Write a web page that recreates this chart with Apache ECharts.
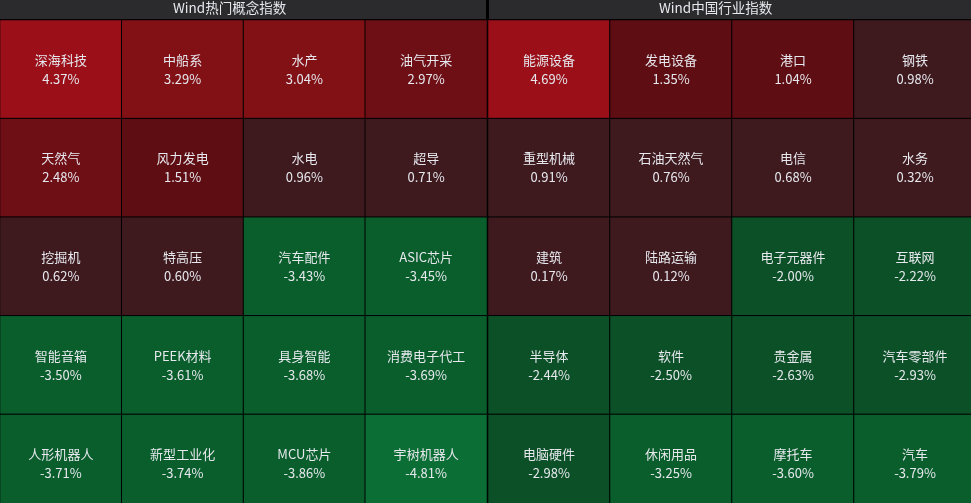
<!DOCTYPE html>
<html>
<head>
<meta charset="utf-8">
<script src="https://cdn.jsdelivr.net/npm/echarts@6/dist/echarts.min.js"></script>
<style>html,body{margin:0;padding:0;background:#000;}#c{width:971px;height:503px;}</style>
</head>
<body>
<div id="c"></div>
<script>
var panelTitles = ['Wind热门概念指数', 'Wind中国行业指数'];
var conceptNames = ['深海科技','中船系','水产','油气开采','天然气','风力发电','水电','超导','挖掘机','特高压','汽车配件','ASIC芯片','智能音箱','PEEK材料','具身智能','消费电子代工','人形机器人','新型工业化','MCU芯片','宇树机器人'];
var conceptValues = [4.37,3.29,3.04,2.97,2.48,1.51,0.96,0.71,0.62,0.60,-3.43,-3.45,-3.50,-3.61,-3.68,-3.69,-3.71,-3.74,-3.86,-4.81];
var industryNames = ['能源设备','发电设备','港口','钢铁','重型机械','石油天然气','电信','水务','建筑','陆路运输','电子元器件','互联网','半导体','软件','贵金属','汽车零部件','电脑硬件','休闲用品','摩托车','汽车'];
var industryValues = [4.69,1.35,1.04,0.98,0.91,0.76,0.68,0.32,0.17,0.12,-2.00,-2.22,-2.44,-2.50,-2.63,-2.93,-2.98,-3.25,-3.60,-3.79];
var cols = ['0','1','2','3'];
var rows = ['0','1','2','3','4'];

function toData(names, values) {
  return names.map(function (n, i) {
    return { name: n, value: [i % 4, Math.floor(i / 4), values[i]] };
  });
}

var chart = echarts.init(document.getElementById('c'));
var grids = [
  { left: 0, top: 20, width: 487, height: 493, outerBoundsMode: 'none' },
  { left: 488, top: 20, width: 488, height: 493, outerBoundsMode: 'none' }
];
function axisX(i){ return { type:'category', data: cols, gridIndex:i, show:false }; }
function axisY(i){ return { type:'category', data: rows, gridIndex:i, show:false, inverse:true }; }
function series(i, data){
  return {
    type:'heatmap', xAxisIndex:i, yAxisIndex:i, data:data,
    itemStyle:{ borderColor:'#000', borderWidth:1 },
    label:{ show:true, color:'#e6e8ee', fontSize:13, lineHeight:19,
      fontFamily:'"Noto Sans CJK SC", "Noto Sans", sans-serif',
      formatter:function(p){ return p.name + '\n' + p.value[2].toFixed(2) + '%'; } },
    emphasis:{ disabled:true }
  };
}
chart.setOption({
  backgroundColor:'#000',
  animation:false,
  graphic:[
    { type:'rect', left:0, top:0, shape:{ width:486, height:19 }, style:{ fill:'#2b2b2d' }, silent:true },
    { type:'rect', left:489, top:0, shape:{ width:482, height:19 }, style:{ fill:'#2b2b2d' }, silent:true },
    { type:'text', left:243 - 70, top:1, style:{ text: panelTitles[0], fill:'#e6e8ee', font:'13.5px "Noto Sans CJK SC", sans-serif', width:140, align:'center' }, silent:true },
    { type:'text', left:729 - 70, top:1, style:{ text: panelTitles[1], fill:'#e6e8ee', font:'13.5px "Noto Sans CJK SC", sans-serif', width:140, align:'center' }, silent:true }
  ],
  grid: grids,
  xAxis:[axisX(0), axisX(1)],
  yAxis:[axisY(0), axisY(1)],
  visualMap:{
    type:'piecewise', show:false, dimension:2, seriesIndex:[0,1],
    pieces:[
      { gte:4, color:'#9a0f18' },
      { gte:3, lt:4, color:'#821116' },
      { gte:2, lt:3, color:'#6e0e15' },
      { gte:1, lt:2, color:'#5e0d12' },
      { gte:0, lt:1, color:'#3e1a1f' },
      { gt:-2, lt:0, color:'#0f3d22' },
      { gt:-3, lte:-2, color:'#0b5027' },
      { gt:-4, lte:-3, color:'#095e2c' },
      { lte:-4, color:'#0b6e34' }
    ]
  },
  series:[ series(0, toData(conceptNames, conceptValues)), series(1, toData(industryNames, industryValues)) ]
});
</script>
</body>
</html>
